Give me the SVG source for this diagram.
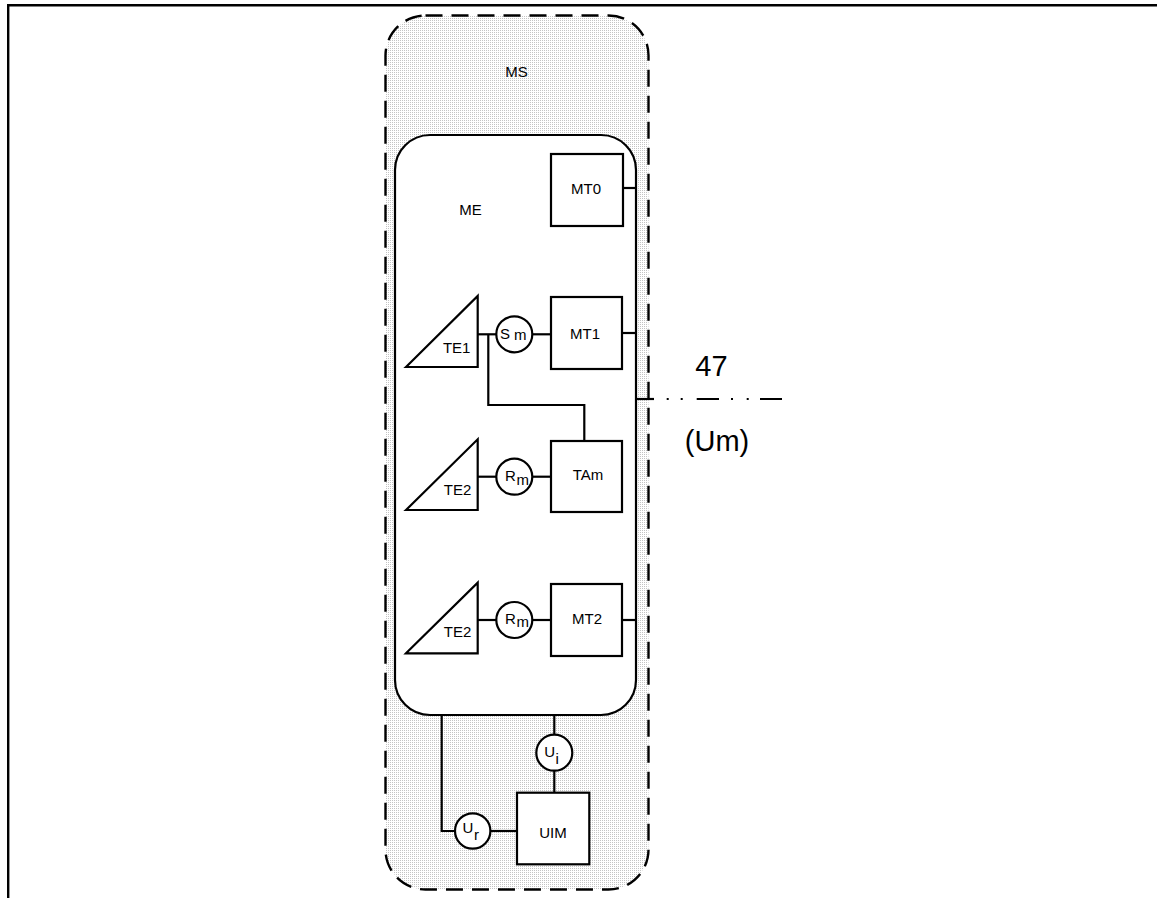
<svg xmlns="http://www.w3.org/2000/svg" width="1157" height="898" viewBox="0 0 1157 898">
<defs>
<pattern id="dots" width="2" height="2" patternUnits="userSpaceOnUse">
<rect width="2" height="2" fill="#ffffff"/>
<rect width="1" height="1" fill="#c4c4c4"/>
</pattern>
<style>
.ln{fill:none;stroke:#000;stroke-width:2.2}
.bx{fill:#fff;stroke:#000;stroke-width:2.2}
.t{font-family:"Liberation Sans",Arial,sans-serif;font-size:15px;fill:#000;text-anchor:middle}
.tl{font-family:"Liberation Sans",Arial,sans-serif;font-size:15px;fill:#000}
.big{font-family:"Liberation Sans",Arial,sans-serif;font-size:29px;fill:#000;text-anchor:middle}
</style>
</defs>
<g id="frame">
<path d="M8.2 898 V5.2 H1157" fill="none" stroke="#000" stroke-width="2.4"/>
</g>
<g id="MS">
<rect x="385.5" y="15.5" width="263" height="874" rx="40" ry="40" fill="url(#dots)" stroke="#000" stroke-width="2.4" stroke-dasharray="17 9"/>
<text class="t" x="516.5" y="76.5">MS</text>
</g>
<g id="ME">
<rect x="395" y="135" width="241" height="580" rx="35" ry="35" class="bx"/>
<text class="t" x="470.5" y="215">ME</text>
</g>
<g id="connectors">
<path class="ln" d="M623 188 H636"/>
<path class="ln" d="M477.7 334.3 H496.3"/>
<path class="ln" d="M532.3 334.3 H551"/>
<path class="ln" d="M622 333 H636"/>
<path class="ln" d="M488.3 334.3 V405 H584.3 V441"/>
<path class="ln" d="M477.7 476.7 H496.3"/>
<path class="ln" d="M532.3 476.7 H551"/>
<path class="ln" d="M477.7 620 H496.3"/>
<path class="ln" d="M532.3 620 H551"/>
<path class="ln" d="M622 620 H636"/>
<path class="ln" d="M441.7 715 V831 H455"/>
<path class="ln" d="M490.5 831 H517"/>
<path class="ln" d="M554.3 715 V734.7"/>
<path class="ln" d="M554.3 770.7 V792.7"/>
<path class="ln" d="M636 399 H654"/>
<path class="ln" d="M666.7 399 H668.7 M680.7 399 H682.7 M696.7 399 H719 M731 399 H733 M746.7 399 H748.7 M760 399 H782"/>
</g>
<g id="MT0">
<rect x="551" y="154" width="72" height="72" class="bx"/>
<text class="t" x="586" y="194">MT0</text>
</g>
<g id="TE1">
<polygon points="406,367 477.7,296 477.7,367" class="bx"/>
<text class="t" x="456.7" y="352.7">TE1</text>
</g>
<g id="Sm">
<circle cx="514.3" cy="334.3" r="18" class="bx"/>
<text class="tl" x="500" y="339">S</text>
<text class="tl" x="514" y="340">m</text>
</g>
<g id="MT1">
<rect x="551" y="297" width="71" height="72" class="bx"/>
<text class="t" x="585" y="339.3">MT1</text>
</g>
<g id="TE2a">
<polygon points="406,510 477.7,439.3 477.7,510" class="bx"/>
<text class="t" x="457.5" y="495.3">TE2</text>
</g>
<g id="Rm1">
<circle cx="514.3" cy="476.7" r="18" class="bx"/>
<text class="tl" x="505" y="481.3">R</text>
<text class="tl" x="516.5" y="485">m</text>
</g>
<g id="TAm">
<rect x="551" y="441" width="71" height="71" class="bx"/>
<text class="t" x="588" y="480">TAm</text>
</g>
<g id="TE2b">
<polygon points="406,653.3 477.7,582.7 477.7,653.3" class="bx"/>
<text class="t" x="457.5" y="637.3">TE2</text>
</g>
<g id="Rm2">
<circle cx="514.3" cy="620" r="18" class="bx"/>
<text class="tl" x="505" y="623.5">R</text>
<text class="tl" x="516.5" y="627.3">m</text>
</g>
<g id="MT2">
<rect x="551" y="584" width="71" height="72" class="bx"/>
<text class="t" x="587" y="624.3">MT2</text>
</g>
<g id="Ui">
<circle cx="554.3" cy="752.7" r="18" class="bx"/>
<text class="tl" x="544.3" y="756.7">U</text>
<text class="tl" x="555.5" y="764">i</text>
</g>
<g id="Ur">
<circle cx="472.7" cy="831" r="17.7" class="bx"/>
<text class="tl" x="462.5" y="833.3">U</text>
<text class="tl" x="474" y="840">r</text>
</g>
<g id="UIM">
<rect x="517" y="792.7" width="72.3" height="71.6" class="bx"/>
<text class="t" x="553" y="838.3">UIM</text>
</g>
<g id="Um">
<text class="big" x="711.5" y="376">47</text>
<text class="big" x="717" y="451">(Um)</text>
</g>
</svg>
